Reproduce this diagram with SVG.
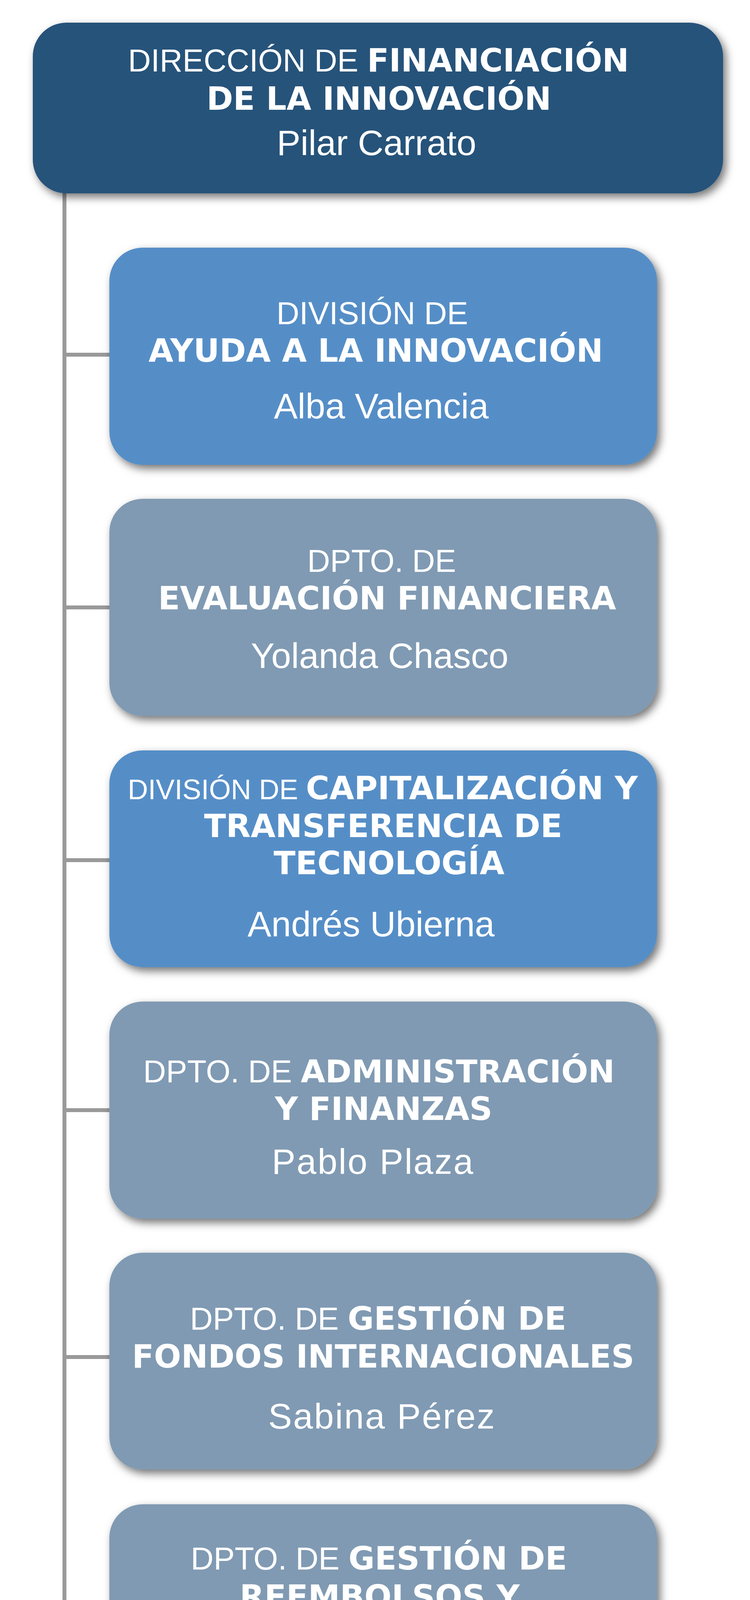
<svg xmlns="http://www.w3.org/2000/svg" width="1920" height="4501" viewBox="0 0 1920 4501">
<style>
.dark{fill:#28537A}
.blue{fill:#548EC7}
.grey{fill:#809AB3}
.box{filter:url(#sh)}
text{fill:#FFFFFF;text-anchor:middle}
.reg{font-family:"Liberation Sans",Arial,sans-serif;font-size:81px}
.b{font-family:"DejaVu Sans","Liberation Sans",sans-serif;font-weight:bold;font-size:82px}
.name{font-family:"Liberation Sans",Arial,sans-serif;font-size:91px}
.wide{letter-spacing:3px}
.conn{stroke:#999999;stroke-width:10;fill:none}
</style>
<defs>
<filter id="sh" x="-10%" y="-20%" width="125%" height="150%">
<feDropShadow dx="8" dy="10" stdDeviation="11" flood-color="#000000" flood-opacity="0.55"/>
</filter>
</defs>
<rect width="1920" height="4501" fill="#FFFFFF"/>
<g id="connectors">
<path class="conn" d="M165 480 V4135"/>
<path class="conn" d="M165 908 H282"/>
<path class="conn" d="M165 1555 H282"/>
<path class="conn" d="M165 2202 H282"/>
<path class="conn" d="M165 2842 H282"/>
<path class="conn" d="M165 3474 H282"/>
<path class="conn" d="M165 4130 H282"/>
</g>
<g id="direccion">
<rect class="box dark" x="84" y="58" width="1767" height="437" rx="86" ry="86"/>
<text x="969" y="183"><tspan class="reg">DIRECCIÓN DE </tspan><tspan class="b">FINANCIACIÓN</tspan></text>
<text class="b" x="970" y="281">DE LA INNOVACIÓN</text>
<text class="name" x="964" y="397">Pilar Carrato</text>
</g>
<g id="ayuda">
<rect class="box blue" x="280" y="634" width="1402" height="556" rx="85" ry="85"/>
<text class="reg" x="953" y="830">DIVISIÓN DE</text>
<text class="b" x="962" y="926">AYUDA A LA INNOVACIÓN</text>
<text class="name" x="976" y="1071">Alba Valencia</text>
</g>
<g id="evaluacion">
<rect class="box grey" x="280" y="1277" width="1402" height="556" rx="85" ry="85"/>
<text class="reg" x="977" y="1464">DPTO. DE</text>
<text class="b" x="991" y="1560">EVALUACIÓN FINANCIERA</text>
<text class="name" x="972" y="1710">Yolanda Chasco</text>
</g>
<g id="capitalizacion">
<rect class="box blue" x="280" y="1921" width="1402" height="555" rx="85" ry="85"/>
<text x="980" y="2046"><tspan class="reg" style="font-size:72px">DIVISIÓN DE </tspan><tspan class="b">CAPITALIZACIÓN Y</tspan></text>
<text class="b" x="981" y="2143">TRANSFERENCIA DE</text>
<text class="b" x="996" y="2238">TECNOLOGÍA</text>
<text class="name" x="950" y="2397">Andrés Ubierna</text>
</g>
<g id="administracion">
<rect class="box grey" x="280" y="2564" width="1402" height="556" rx="85" ry="85"/>
<text x="970" y="2771"><tspan class="reg">DPTO. DE </tspan><tspan class="b" style="font-size:81px">ADMINISTRACIÓN</tspan></text>
<text class="b" x="982" y="2867">Y FINANZAS</text>
<text class="name wide" x="955" y="3005">Pablo Plaza</text>
</g>
<g id="fondos">
<rect class="box grey" x="280" y="3207" width="1402" height="555" rx="85" ry="85"/>
<text x="968" y="3404"><tspan class="reg">DPTO. DE </tspan><tspan class="b">GESTIÓN DE</tspan></text>
<text class="b" x="981" y="3501">FONDOS INTERNACIONALES</text>
<text class="name wide" x="978" y="3657">Sabina Pérez</text>
</g>
<g id="reembolsos">
<rect class="box grey" x="280" y="3851" width="1402" height="555" rx="85" ry="85"/>
<text x="970" y="4018"><tspan class="reg">DPTO. DE </tspan><tspan class="b">GESTIÓN DE</tspan></text>
<text class="b" x="972" y="4116">REEMBOLSOS Y</text>
<text class="b" x="983" y="4211">RECUPERACIONES</text>
<text class="name wide" x="963" y="4333">Luis Arranz</text>
</g>
</svg>
